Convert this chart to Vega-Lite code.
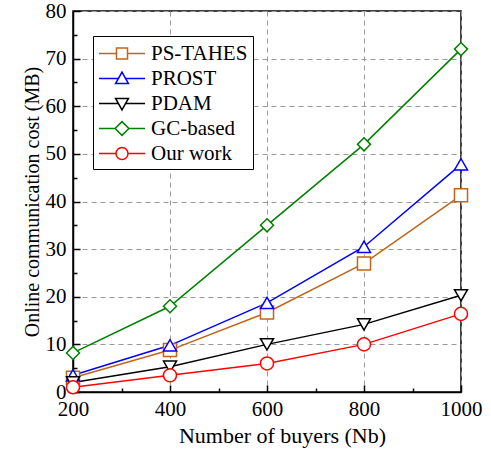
{
  "$schema": "https://vega.github.io/schema/vega-lite/v6.json",
  "width": 388,
  "height": 381,
  "padding": {"left": 22, "top": 0, "right": 27, "bottom": 5},
  "background": "white",
  "config": {
    "font": "Liberation Serif",
    "view": {"stroke": "black", "strokeWidth": 1.5},
    "axis": {
      "labelFont": "Liberation Serif",
      "labelFontSize": 21,
      "titleFont": "Liberation Serif",
      "titleFontSize": 20,
      "titleFontWeight": "normal",
      "labelColor": "black",
      "titleColor": "black",
      "tickColor": "black",
      "domainColor": "black",
      "tickSize": -7,
      "tickWidth": 1.5,
      "domainWidth": 1.5,
      "labelFlush": false,
      "gridDash": [5, 4],
      "gridColor": "#999999",
      "gridWidth": 1
    }
  },
  "data": {
    "values": [
      {"buyers": 200, "scheme": "PS-TAHES", "cost": 3.0},
      {"buyers": 400, "scheme": "PS-TAHES", "cost": 8.8},
      {"buyers": 600, "scheme": "PS-TAHES", "cost": 16.7},
      {"buyers": 800, "scheme": "PS-TAHES", "cost": 27.0},
      {"buyers": 1000, "scheme": "PS-TAHES", "cost": 41.3},
      {"buyers": 200, "scheme": "PROST", "cost": 3.5},
      {"buyers": 400, "scheme": "PROST", "cost": 9.8},
      {"buyers": 600, "scheme": "PROST", "cost": 18.7},
      {"buyers": 800, "scheme": "PROST", "cost": 30.5},
      {"buyers": 1000, "scheme": "PROST", "cost": 47.8},
      {"buyers": 200, "scheme": "PDAM", "cost": 2.0},
      {"buyers": 400, "scheme": "PDAM", "cost": 5.3},
      {"buyers": 600, "scheme": "PDAM", "cost": 10.0},
      {"buyers": 800, "scheme": "PDAM", "cost": 14.2},
      {"buyers": 1000, "scheme": "PDAM", "cost": 20.3},
      {"buyers": 200, "scheme": "GC-based", "cost": 8.2},
      {"buyers": 400, "scheme": "GC-based", "cost": 18.0},
      {"buyers": 600, "scheme": "GC-based", "cost": 35.0},
      {"buyers": 800, "scheme": "GC-based", "cost": 52.0},
      {"buyers": 1000, "scheme": "GC-based", "cost": 72.0},
      {"buyers": 200, "scheme": "Our work", "cost": 1.0},
      {"buyers": 400, "scheme": "Our work", "cost": 3.5},
      {"buyers": 600, "scheme": "Our work", "cost": 6.0},
      {"buyers": 800, "scheme": "Our work", "cost": 10.0},
      {"buyers": 1000, "scheme": "Our work", "cost": 16.4}
    ]
  },
  "resolve": {"axis": {"x": "independent", "y": "independent"}, "scale": {"shape": "independent"}, "legend": {"shape": "independent"}},
  "layer": [
    {
      "mark": {"type": "line", "strokeWidth": 1.5},
      "encoding": {
        "x": {"field": "buyers", "type": "quantitative", "scale": {"domain": [200, 1000], "nice": false},
              "axis": {"values": [200, 400, 600, 800, 1000], "format": "d", "title": "Number of buyers (Nb)", "titleFontSize": 22, "titleX": 209, "labelPadding": 13, "titlePadding": 6, "grid": true}},
        "y": {"field": "cost", "type": "quantitative", "scale": {"domain": [0, 80], "nice": false},
              "axis": {"values": [0, 10, 20, 30, 40, 50, 60, 70, 80], "title": "Online communication cost (MB)", "labelPadding": 14, "titlePadding": 3, "grid": true}},
        "color": {"field": "scheme", "type": "nominal",
                  "scale": {"domain": ["PS-TAHES", "PROST", "PDAM", "GC-based", "Our work"], "range": ["#C0651A", "#0000FF", "#000000", "#008000", "#FF0000"]},
                  "legend": {
                    "title": null,
                    "orient": "none",
                    "legendX": 20,
                    "legendY": 25,
                    "strokeColor": "black",
                    "fillColor": "white",
                    "padding": 5,
                    "labelFont": "Liberation Serif",
                    "labelFontSize": 21,
                    "labelColor": "black",
                    "symbolSize": 529,
                    "symbolStrokeWidth": 1.5,
                    "rowPadding": 2,
                    "labelOffset": 28,
                    "encode": {
                      "symbols": {
                        "update": {
                          "fill": {"value": "white"},
                          "fillOpacity": {"value": 1},
                          "stroke": {"scale": "color", "field": "value"},
                          "strokeWidth": {"value": 1.5},
                          "opacity": {"value": 1},
                          "shape": {"signal": "datum.value === 'PS-TAHES' ? 'M-1,0H0.52M1.48,0H3M0.52,-0.48H1.48V0.48H0.52Z' : datum.value === 'PROST' ? 'M-1,0H0.7M1.3,0H3M1,-0.56L1.56,0.44H0.44Z' : datum.value === 'PDAM' ? 'M-1,0H0.7M1.3,0H3M1,0.56L1.56,-0.44H0.44Z' : datum.value === 'GC-based' ? 'M-1,0H0.4M1.6,0H3M1,-0.6L1.6,0L1,0.6L0.4,0Z' : 'M-1,0H0.48M1.52,0H3M1.52,0A0.52,0.52,0,1,1,0.48,0A0.52,0.52,0,1,1,1.52,0Z'"}
                        }
                      }
                    }
                  }}
      }
    },
    {
      "mark": {"type": "point", "filled": false, "fill": "white", "fillOpacity": 1, "strokeWidth": 1.5, "size": 170, "opacity": 1},
      "encoding": {
        "x": {"field": "buyers", "type": "quantitative", "axis": null},
        "y": {"field": "cost", "type": "quantitative", "axis": null},
        "color": {"field": "scheme", "type": "nominal"},
        "shape": {"field": "scheme", "type": "nominal", "legend": null,
                  "scale": {"domain": ["PS-TAHES", "PROST", "PDAM", "GC-based", "Our work"], "range": ["square", "triangle-up", "triangle-down", "diamond", "circle"]}}
      }
    },
    {
      "mark": {"type": "point", "opacity": 0},
      "encoding": {
        "x": {"field": "buyers", "type": "quantitative",
              "axis": {"orient": "bottom", "values": [300, 500, 700, 900], "labels": false, "title": null, "domain": false, "grid": false, "tickSize": -4}},
        "y": {"field": "cost", "type": "quantitative",
              "axis": {"orient": "left", "values": [5, 15, 25, 35, 45, 55, 65, 75], "labels": false, "title": null, "domain": false, "grid": false, "tickSize": -4}}
      }
    }
  ]
}
